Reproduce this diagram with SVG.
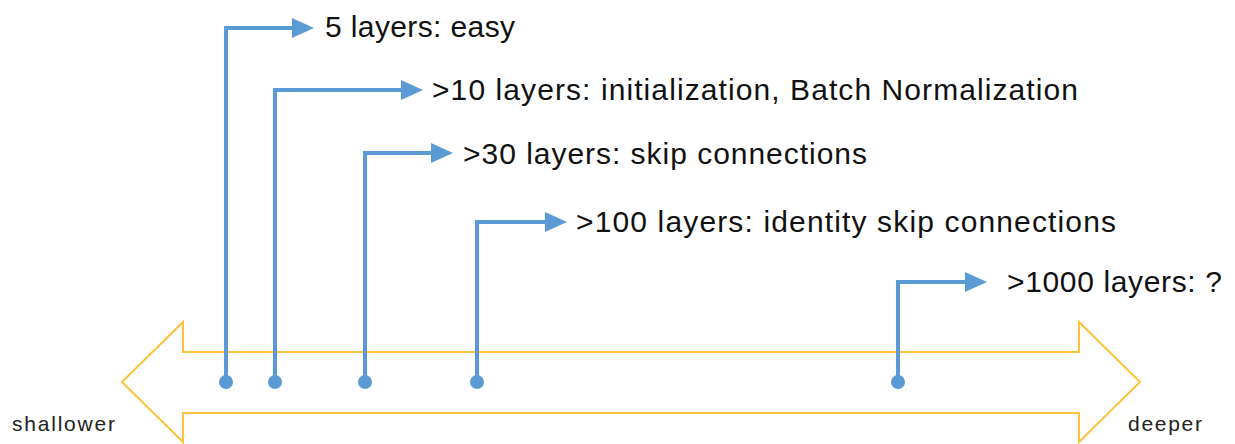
<svg xmlns="http://www.w3.org/2000/svg" width="1235" height="444" viewBox="0 0 1235 444">
<style>
.lbl{font-family:"Liberation Sans",Arial,sans-serif;font-size:30px;fill:#111}
.small{font-family:"Liberation Sans",Arial,sans-serif;font-size:21px;fill:#222}
.conn{fill:none;stroke:#5B9BD5;stroke-width:4}
.dot{fill:#5B9BD5}
</style>
<defs>
<marker id="ah" markerWidth="5.5" markerHeight="5" refX="0" refY="2.5" orient="auto" markerUnits="strokeWidth"><path d="M0,0 L5.5,2.5 L0,5 Z" fill="#5B9BD5"/></marker>
</defs>
<rect width="1235" height="444" fill="#fff"/>
<g id="axis">
<polygon points="122,382 183,322 183,352 1079,352 1079,322 1140,382 1079,442 1079,413 183,413 183,442" fill="none" stroke="#FFC23A" stroke-width="2"/>
<text class="small" x="12" y="431" textLength="103">shallower</text>
<text class="small" x="1128" y="431" textLength="74">deeper</text>
</g>
<g id="connectors">
<path class="conn" d="M226,382 V28 H292" marker-end="url(#ah)"/>
<circle class="dot" cx="226" cy="382" r="7"/>
<path class="conn" d="M275,382 V90 H401" marker-end="url(#ah)"/>
<circle class="dot" cx="275" cy="382" r="7"/>
<path class="conn" d="M365,382 V153 H431" marker-end="url(#ah)"/>
<circle class="dot" cx="365" cy="382" r="7"/>
<path class="conn" d="M477,382 V222 H545" marker-end="url(#ah)"/>
<circle class="dot" cx="477" cy="382" r="7"/>
<path class="conn" d="M898,382 V282 H965" marker-end="url(#ah)"/>
<circle class="dot" cx="898" cy="382" r="7"/>
</g>
<g id="n1"><text class="lbl" x="325" y="37" textLength="190">5 layers: easy</text></g>
<g id="n2"><text class="lbl" x="432" y="100" textLength="646">&gt;10 layers: initialization, Batch Normalization</text></g>
<g id="n3"><text class="lbl" x="463" y="164" textLength="404">&gt;30 layers: skip connections</text></g>
<g id="n4"><text class="lbl" x="576" y="232" textLength="540">&gt;100 layers: identity skip connections</text></g>
<g id="n5"><text class="lbl" x="1007" y="292" textLength="215">&gt;1000 layers: ?</text></g>
</svg>
